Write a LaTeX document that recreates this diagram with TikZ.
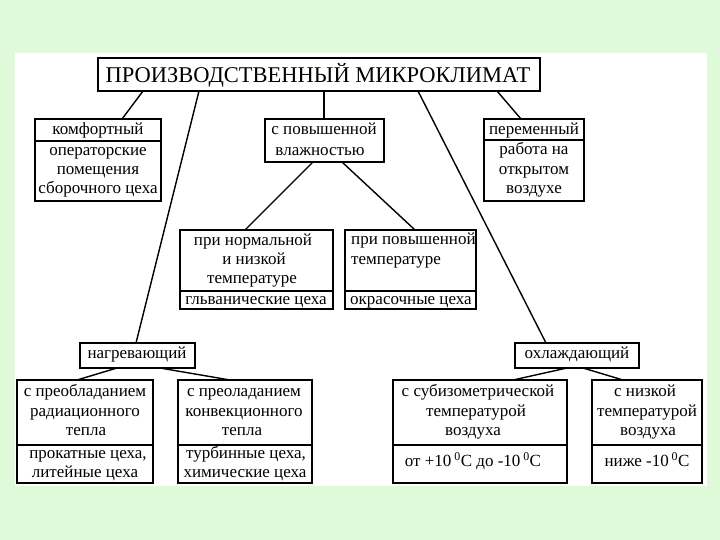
\documentclass[tikz,border=0pt]{standalone}
\usepackage{fontspec}
\setmainfont{Liberation Serif}
\definecolor{bggreen}{RGB}{222,250,217}
\begin{document}
\begin{tikzpicture}[x=1pt,y=-1pt,
  box/.style={draw, line width=1.2pt, inner sep=0pt, outer sep=0pt, anchor=north west, fill=white},
  conn/.style={line width=1.4pt},
  divline/.style={line width=1.1pt},
  txt/.style={inner sep=0pt, font=\fontsize{17}{20}\selectfont, text height=11.7pt, text depth=4.2pt},
  ttl/.style={inner sep=0pt, font=\fontsize{22.5}{24}\selectfont}]
\useasboundingbox (0,0) rectangle (720,540);
\fill[bggreen] (0,0) rectangle (720,540);
\fill[white] (15,53) rectangle (707,486);

% boxes
\node[box, minimum width=442, minimum height=33] (title) at (98,58) {};
\node[box, minimum width=126, minimum height=82] (komf) at (35,119) {};
\node[box, minimum width=119, minimum height=43] (pov) at (265,119) {};
\node[box, minimum width=100, minimum height=82] (perem) at (484,119) {};
\node[box, minimum width=153, minimum height=79] (norm) at (180,230) {};
\node[box, minimum width=131, minimum height=79] (povT) at (345,230) {};
\node[box, minimum width=115, minimum height=25] (nagr) at (80,343) {};
\node[box, minimum width=124, minimum height=25] (ohl) at (515,343) {};
\node[box, minimum width=136, minimum height=103] (rad) at (17,380) {};
\node[box, minimum width=134, minimum height=103] (konv) at (178,380) {};
\node[box, minimum width=174, minimum height=103] (sub) at (393,380) {};
\node[box, minimum width=110, minimum height=103] (niz) at (592,380) {};

% dividers
\draw[divline] ([yshift=-22pt]komf.north west) -- ([yshift=-22pt]komf.north east);
\draw[divline] ([yshift=-21pt]perem.north west) -- ([yshift=-21pt]perem.north east);
\draw[divline] ([yshift=-61pt]norm.north west) -- ([yshift=-61pt]norm.north east);
\draw[divline] ([yshift=-61pt]povT.north west) -- ([yshift=-61pt]povT.north east);
\draw[divline] ([yshift=-65pt]rad.north west) -- ([yshift=-65pt]rad.north east);
\draw[divline] ([yshift=-65pt]konv.north west) -- ([yshift=-65pt]konv.north east);
\draw[divline] ([yshift=-65pt]sub.north west) -- ([yshift=-65pt]sub.north east);
\draw[divline] ([yshift=-65pt]niz.north west) -- ([yshift=-65pt]niz.north east);

% connectors
\draw[conn] ([xshift=45pt]title.south west) -- ([xshift=87pt]komf.north west);
\draw[conn] ([xshift=101pt]title.south west) -- ([xshift=56pt]nagr.north west);
\draw[conn] ([xshift=226pt]title.south west) -- ([xshift=59pt]pov.north west);
\draw[conn] ([xshift=320pt]title.south west) -- ([xshift=31pt]ohl.north west);
\draw[conn] ([xshift=399pt]title.south west) -- ([xshift=37pt]perem.north west);
\draw[conn] ([xshift=48pt]pov.south west) -- ([xshift=65pt]norm.north west);
\draw[conn] ([xshift=77pt]pov.south west) -- ([xshift=70pt]povT.north west);
\draw[conn] ([xshift=37pt]nagr.south west) -- ([xshift=60pt]rad.north west);
\draw[conn] ([xshift=80pt]nagr.south west) -- ([xshift=52pt]konv.north west);
\draw[conn] ([xshift=52pt]ohl.south west) -- ([xshift=120pt]sub.north west);
\draw[conn] ([xshift=68pt]ohl.south west) -- ([xshift=31pt]niz.north west);

% texts
\node[ttl] (tt) at (318,75) {ПРОИЗВОДСТВЕННЫЙ МИКРОКЛИМАТ};

\node[txt] (k1) at (98,131) {комфортный};
\node[txt] (k2) at (98,152) {операторские};
\node[txt] (k3) at (98,171) {помещения};
\node[txt] (k4) at (98,190) {сборочного цеха};

\node[txt] (p1) at (324,131) {с повышенной};
\node[txt] (p2) at (320,152) {влажностью};

\node[txt] (m1) at (534,131) {переменный};
\node[txt] (m2) at (534,151) {работа на};
\node[txt] (m3) at (534,171) {открытом};
\node[txt] (m4) at (534,190) {воздухе};

\node[txt] (n1) at (253,242) {при нормальной};
\node[txt] (n2) at (254,261) {и низкой};
\node[txt] (n3) at (252,280) {температуре};
\node[txt] (n4) at (256,301) {гльванические цеха};

\node[txt, anchor=west] (q1) at (351,241) {при повышенной};
\node[txt, anchor=west] (q2) at (351,261) {температуре};
\node[txt, anchor=west] (q3) at (350,301) {окрасочные цеха};

\node[txt] (g1) at (137,355) {нагревающий};
\node[txt] (o1) at (577,355) {охлаждающий};

\node[txt] (r1) at (85,393) {с преобладанием};
\node[txt] (r2) at (85,413) {радиационного};
\node[txt] (r3) at (86,432) {тепла};
\node[txt] (r4) at (88,455) {прокатные цеха,};
\node[txt] (r5) at (85,474) {литейные цеха};

\node[txt] (c1) at (244,393) {с преоладанием};
\node[txt] (c2) at (244,413) {конвекционного};
\node[txt] (c3) at (242,432) {тепла};
\node[txt] (c4) at (246,455) {турбинные цеха,};
\node[txt] (c5) at (245,474) {химические цеха};

\node[txt] (s1) at (478,393) {с субизометрической};
\node[txt] (s2) at (476,413) {температурой};
\node[txt] (s3) at (473,432) {воздуха};
\node[txt] (s4) at (473,463) {от +10\,\textsuperscript{0}С до -10\,\textsuperscript{0}С};

\node[txt] (z1) at (645,393) {с низкой};
\node[txt] (z2) at (647,413) {температурой};
\node[txt] (z3) at (648,432) {воздуха};
\node[txt] (z4) at (647,463) {ниже -10\,\textsuperscript{0}С};
\end{tikzpicture}
\end{document}
